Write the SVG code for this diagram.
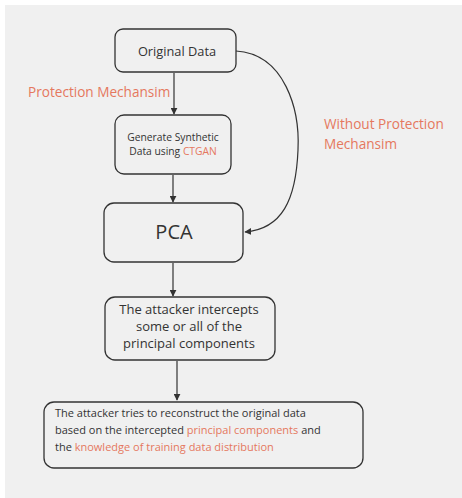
<svg xmlns="http://www.w3.org/2000/svg" width="462" height="498" viewBox="0 0 462 498">
<defs>
<marker id="ah" viewBox="0 0 10 10" refX="9" refY="5" markerWidth="7" markerHeight="7" markerUnits="userSpaceOnUse" orient="auto">
<path d="M0,0 L10,5 L0,10 z" fill="#333"/>
</marker>
<style>
.box{fill:none;stroke:#333;stroke-width:1.3}
.t{font-family:"Open Sans","Noto Sans",sans-serif;fill:#333}
.o{fill:#e5785e}
.c{fill:none;stroke:#333;stroke-width:1.2;marker-end:url(#ah)}
</style>
</defs>
<rect width="462" height="498" fill="#ffffff"/>
<rect x="5" y="5" width="457" height="493" fill="#f0f0f0"/>
<g id="connectors">
<path class="c" d="M174,73 V114"/>
<path class="c" d="M173,175 V202"/>
<path class="c" d="M173,263 V296"/>
<path class="c" d="M177,361 V400"/>
<path class="c" d="M236,51 C285,54 300,110 298,150 C296,200 282,229 245,232"/>
</g>
<g id="label-protection"><text class="t o" x="28" y="97" font-size="13.6">Protection Mechansim</text></g>
<g id="label-without"><text class="t o" x="324" y="129" font-size="13.6">Without Protection</text><text class="t o" x="324" y="149" font-size="13.6">Mechansim</text></g>
<g id="original"><rect class="box" x="115" y="29" width="121" height="43" rx="8"/><text class="t" x="177" y="56" font-size="12.8" text-anchor="middle">Original Data</text></g>
<g id="generate"><rect class="box" x="115" y="115" width="116" height="59" rx="9"/><text class="t" x="173" y="141" font-size="10.3" text-anchor="middle">Generate Synthetic</text><text class="t" x="173" y="155" font-size="10.3" text-anchor="middle">Data using <tspan class="o">CTGAN</tspan></text></g>
<g id="pca"><rect class="box" x="104" y="203" width="139" height="59" rx="10"/><text class="t" x="174" y="239" font-size="20" text-anchor="middle">PCA</text></g>
<g id="attacker"><rect class="box" x="105" y="297" width="170" height="63" rx="10"/><text class="t" x="189" y="314" font-size="13" text-anchor="middle">The attacker intercepts</text><text class="t" x="189" y="331" font-size="13" text-anchor="middle">some or all of the</text><text class="t" x="189" y="348" font-size="13" text-anchor="middle">principal components</text></g>
<g id="reconstruct"><rect class="box" x="44" y="402" width="319" height="66" rx="10"/><text class="t" x="55" y="417" font-size="11">The attacker tries to reconstruct the original data</text><text class="t" x="55" y="434" font-size="11">based on the intercepted <tspan class="o">principal components</tspan> and</text><text class="t" x="55" y="451" font-size="11">the <tspan class="o">knowledge of training data distribution</tspan></text></g>
</svg>
